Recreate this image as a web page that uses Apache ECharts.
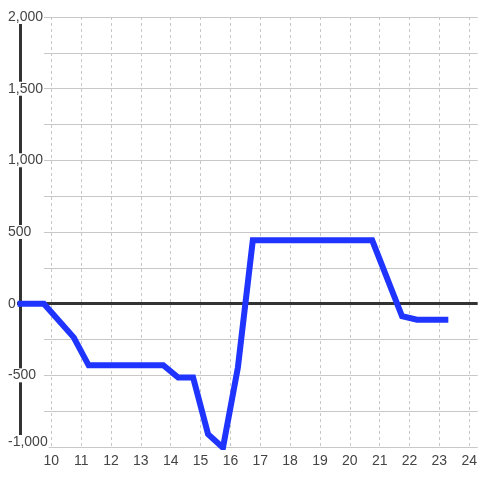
<!DOCTYPE html>
<html>
<head>
<meta charset="utf-8">
<script src="https://cdn.jsdelivr.net/npm/echarts@6/dist/echarts.min.js"></script>
<style>
    html, body { margin: 0; padding: 0; background: #fff; }
    #chart { width: 480px; height: 480px; }
</style>
</head>
<body>
<div id="chart"></div>
<script>
// data
const hours = [8.87, 9.75, 10.75, 11.25, 13.75, 14.25, 14.75, 15.25, 15.75, 16.25, 16.75, 20.75, 21.75, 22.25, 23.3];
const values = [0, 0, -235, -430, -430, -515, -515, -910, -1005, -445, 442, 442, -88, -112, -112];
const xTicks = [10, 11, 12, 13, 14, 15, 16, 17, 18, 19, 20, 21, 22, 23, 24];
const yTicks = [-1000, -500, 0, 500, 1000, 1500, 2000];

const LABEL_FONT = 'Liberation Sans, Arial, sans-serif';
const GRID_COLOR = '#c8c8c8';

let chart = echarts.init(document.getElementById('chart'));

let option = {
    animation: false,
    grid: {
        left: 17,
        right: 0,
        top: 17,
        bottom: 33
    },
    /* hides the horizontal grid lines left of x=45, like the reference */
    graphic: [
        {
            type: 'rect',
            z: 1,
            silent: true,
            shape: { x: 17, y: 10, width: 27, height: 445 },
            style: { fill: '#fff' }
        }
    ],
    xAxis: {
        type: 'value',
        z: 3,
        min: 8.85,
        max: 24.283,
        axisLine: { show: false },
        axisTick: { show: false, customValues: xTicks },
        axisLabel: {
            customValues: xTicks,
            margin: 7,
            color: '#444',
            fontSize: 14,
            fontFamily: LABEL_FONT
        },
        splitLine: {
            show: true,
            lineStyle: { color: GRID_COLOR, type: [3, 3], width: 1 }
        }
    },
    yAxis: [
        {
            // grid lines only
            type: 'value',
            z: 0,
            min: yTicks[0],
            max: yTicks[yTicks.length - 1],
            interval: 500,
            axisLine: { show: false },
            axisTick: { show: false },
            axisLabel: { show: false },
            splitLine: {
                show: true,
                lineStyle: { color: GRID_COLOR, width: 1 }
            },
            minorTick: { show: false, splitNumber: 2 },
            minorSplitLine: {
                show: true,
                lineStyle: { color: GRID_COLOR, width: 1 }
            }
        },
        {
            // axis line + labels
            type: 'value',
            z: 2,
            position: 'left',
            offset: -3,
            min: yTicks[0],
            max: yTicks[yTicks.length - 1],
            interval: 500,
            axisLine: {
                show: true,
                lineStyle: { color: '#333', width: 3 }
            },
            axisTick: { show: false },
            splitLine: { show: false },
            axisLabel: {
                align: 'left',
                margin: 13,
                color: '#444',
                fontSize: 14,
                fontFamily: LABEL_FONT,
                backgroundColor: '#fff',
                padding: [0, 1],
                formatter: function (v) {
                    let s = v.toLocaleString('en-US');
                    // lowest label sits a little higher in the reference
                    return v === yTicks[0] ? '{low|' + s + '}' : s;
                },
                rich: {
                    low: {
                        color: '#444',
                        fontSize: 14,
                        fontFamily: LABEL_FONT,
                        padding: [0, 0, 10, 0]
                    }
                }
            }
        }
    ],
    series: [
        {
            type: 'line',
            z: 4,
            data: [],
            markLine: {
                silent: true,
                symbol: 'none',
                label: { show: false },
                lineStyle: { color: '#333', width: 3, type: 'solid' },
                data: [{ yAxis: 0 }]
            }
        },
        {
            type: 'line',
            z: 5,
            showSymbol: false,
            data: hours.map((h, i) => [h, values[i]]),
            lineStyle: { color: '#1f35ff', width: 6, cap: 'butt', join: 'miter' }
        }
    ]
};
chart.setOption(option);

window.addEventListener('resize', function () {
    chart.resize();
});
</script>
</body>
</html>
